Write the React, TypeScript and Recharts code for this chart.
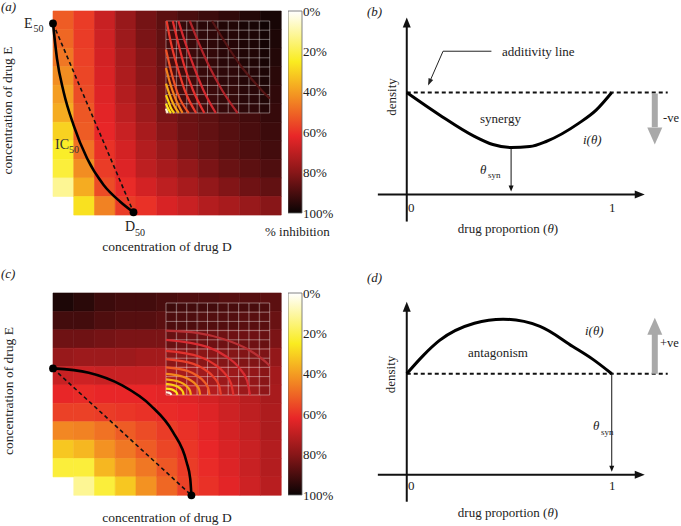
import React from 'react';
import { ComposedChart, Line, Scatter, XAxis, YAxis, ReferenceLine, ReferenceArea, Bar } from 'recharts';

const SERIF = 'Liberation Serif, Times New Roman, DejaVu Serif, serif';

// ---------------- data ----------------
// % inhibition, rows top -> bottom, columns left -> right (null = empty cell)
const heatA: (number | null)[][] = [
  [52, 58, 68, 77, 83, 87, 90, 92, 94, 96, 98],
  [50, 58, 67, 76, 82, 86, 89, 91, 93, 95, 97],
  [47, 57, 66, 74, 80, 85, 88, 90, 92, 94, 96],
  [43, 56, 65, 73, 79, 84, 87, 89, 91, 93, 95],
  [40, 55, 64, 72, 77, 83, 86, 88, 90, 92, 94],
  [37, 53, 63, 70, 76, 82, 85, 87, 89, 91, 93],
  [30, 52, 62, 68, 74, 80, 84, 86, 88, 90, 92],
  [24, 48, 60, 66, 72, 77, 82, 85, 87, 89, 91],
  [22, 43, 58, 64, 70, 74, 78, 82, 85, 87, 89],
  [12, 37, 55, 61, 66, 70, 74, 78, 81, 84, 86],
  [null, 27, 45, 58, 60, 65, 68, 72, 74, 77, 80],
];
const heatC: (number | null)[][] = [
  [97, 95, 92, 91, 91, 90, 89, 89, 88, 88, 87],
  [91, 91, 89, 88, 88, 87, 87, 86, 86, 85, 85],
  [84, 84, 83, 82, 82, 82, 81, 81, 81, 81, 82],
  [77, 76, 76, 76, 75, 75, 75, 75, 76, 77, 78],
  [68, 67, 68, 68, 68, 68, 69, 70, 71, 73, 75],
  [62, 61, 62, 62, 62, 63, 64, 66, 68, 71, 74],
  [57, 57, 58, 59, 60, 61, 62, 64, 67, 70, 73],
  [44, 45, 48, 52, 55, 58, 60, 63, 66, 69, 73],
  [32, 35, 42, 47, 52, 56, 59, 62, 65, 68, 72],
  [22, 22, 35, 42, 47, 53, 58, 61, 64, 68, 72],
  [null, 12, 22, 32, 42, 50, 57, 60, 63, 67, 71],
];
const pctTicks = [0, 20, 40, 60, 80, 100];
const gridTicks = [0, 1, 2, 3, 4, 5, 6, 7, 8, 9, 10];

// isoboles (cell units)
const isoASolid = [
  { x: 0, y: 10.33 }, { x: 0.19, y: 8.45 }, { x: 0.51, y: 6.65 }, { x: 0.99, y: 4.85 },
  { x: 1.64, y: 3.06 }, { x: 2.44, y: 1.62 }, { x: 3.24, y: 0.72 }, { x: 3.88, y: 0.15 },
];
const isoADashed = [{ x: 0, y: 10.33 }, { x: 3.88, y: 0.15 }];
const isoCSolid = [
  { x: 0, y: 6.9 }, { x: 1.726, y: 6.665 }, { x: 3.335, y: 5.976 }, { x: 4.716, y: 4.879 },
  { x: 5.776, y: 3.45 }, { x: 6.443, y: 1.786 }, { x: 6.613, y: 0.901 }, { x: 6.67, y: 0 },
];
const isoCDashed = [{ x: 0, y: 6.9 }, { x: 6.67, y: 0 }];

// inset contour lines (grid units 0-10)
const contoursA = [
  [{ x: 0, y: 0.48 }, { x: 0.08, y: 0.22 }, { x: 0.16, y: 0 }],
  [{ x: 0, y: 1.03 }, { x: 0.15, y: 0.6 }, { x: 0.48, y: 0 }],
  [{ x: 0, y: 1.94 }, { x: 0.25, y: 1.2 }, { x: 0.5, y: 0.5 }, { x: 0.8, y: 0 }],
  [{ x: 0, y: 3.2 }, { x: 0.35, y: 2.0 }, { x: 0.7, y: 1.0 }, { x: 1.23, y: 0 }],
  [{ x: 0, y: 4.9 }, { x: 0.4, y: 3.2 }, { x: 0.9, y: 1.6 }, { x: 1.6, y: 0 }],
  [{ x: 0, y: 6.9 }, { x: 0.5, y: 4.5 }, { x: 1.1, y: 2.2 }, { x: 2.2, y: 0 }],
  [{ x: 0.06, y: 10 }, { x: 0.5, y: 7.5 }, { x: 1.1, y: 5 }, { x: 1.8, y: 2.5 }, { x: 2.9, y: 0 }],
  [{ x: 0.65, y: 10 }, { x: 1.2, y: 7.5 }, { x: 1.8, y: 5 }, { x: 2.6, y: 2.5 }, { x: 3.7, y: 0 }],
  [{ x: 1.2, y: 10 }, { x: 1.9, y: 7.5 }, { x: 2.7, y: 5 }, { x: 3.6, y: 2.5 }, { x: 4.8, y: 0 }],
  [{ x: 2.3, y: 10 }, { x: 3.2, y: 7.5 }, { x: 4.2, y: 5 }, { x: 5.4, y: 2.5 }, { x: 6.9, y: 0 }],
  [{ x: 4.45, y: 10 }, { x: 5.8, y: 7.5 }, { x: 7.3, y: 5 }, { x: 8.8, y: 3 }, { x: 10, y: 1.57 }],
];
const contourColorsA = ['#fff4d0', '#ffe820', '#fcd410', '#f8aa18', '#f4801c', '#f05226', '#ec3a2c', '#e4302e', '#d42a30', '#b0242a', '#561414'];

const contoursC = [
  [{ x: 0, y: 0.3 }, { x: 0.25, y: 0.26 }, { x: 0.354, y: 0.212 }, { x: 0.433, y: 0.15 }, { x: 0.483, y: 0.078 }, { x: 0.5, y: 0 }],
  [{ x: 0, y: 0.7 }, { x: 0.55, y: 0.61 }, { x: 0.78, y: 0.49 }, { x: 0.95, y: 0.35 }, { x: 1.06, y: 0.18 }, { x: 1.1, y: 0 }],
  [{ x: 0, y: 1.2 }, { x: 0.85, y: 1.04 }, { x: 1.2, y: 0.85 }, { x: 1.47, y: 0.6 }, { x: 1.64, y: 0.31 }, { x: 1.7, y: 0 }],
  [{ x: 0, y: 1.7 }, { x: 1.2, y: 1.47 }, { x: 1.7, y: 1.2 }, { x: 2.08, y: 0.85 }, { x: 2.32, y: 0.44 }, { x: 2.4, y: 0 }],
  [{ x: 0, y: 2.3 }, { x: 1.65, y: 1.99 }, { x: 2.33, y: 1.63 }, { x: 2.86, y: 1.15 }, { x: 3.19, y: 0.6 }, { x: 3.3, y: 0 }],
  [{ x: 0, y: 3.0 }, { x: 2.1, y: 2.6 }, { x: 2.97, y: 2.12 }, { x: 3.64, y: 1.5 }, { x: 4.06, y: 0.78 }, { x: 4.2, y: 0 }],
  [{ x: 0, y: 3.9 }, { x: 2.65, y: 3.38 }, { x: 3.75, y: 2.76 }, { x: 4.59, y: 1.95 }, { x: 5.12, y: 1.01 }, { x: 5.3, y: 0 }],
  [{ x: 0, y: 4.8 }, { x: 3.25, y: 4.16 }, { x: 4.6, y: 3.39 }, { x: 5.63, y: 2.4 }, { x: 6.28, y: 1.24 }, { x: 6.5, y: 0 }],
  [{ x: 0, y: 6.0 }, { x: 4.05, y: 5.2 }, { x: 5.73, y: 4.24 }, { x: 7.01, y: 3.0 }, { x: 7.82, y: 1.55 }, { x: 8.1, y: 0 }],
  [{ x: 0, y: 7.0 }, { x: 3.0, y: 6.75 }, { x: 5.6, y: 6.06 }, { x: 7.92, y: 4.95 }, { x: 9.7, y: 3.5 }, { x: 10, y: 3.15 }],
];
const contourColorsC = ['#fff2e0', '#ffe41c', '#fcd014', '#f8aa18', '#f4881e', '#f05e26', '#ea402c', '#e2322e', '#d82c32', '#b83034'];

// interaction curves i(theta)
const curveB = [
  { x: 0, y: 1.0 }, { x: 0.16, y: 0.78 }, { x: 0.33, y: 0.57 }, { x: 0.42, y: 0.49 }, { x: 0.51, y: 0.46 },
  { x: 0.6, y: 0.47 }, { x: 0.68, y: 0.52 }, { x: 0.84, y: 0.7 }, { x: 0.925, y: 0.83 }, { x: 1.0, y: 1.0 },
];
const curveD = [
  { x: 0, y: 1.0 }, { x: 0.08, y: 1.18 }, { x: 0.16, y: 1.33 }, { x: 0.33, y: 1.5 }, { x: 0.47, y: 1.54 },
  { x: 0.65, y: 1.47 }, { x: 0.81, y: 1.27 }, { x: 0.91, y: 1.14 }, { x: 1.0, y: 1.0 },
];

// ---------------- helpers ----------------
const HOT: [number, number[]][] = [
  [0, [255, 255, 255]], [0.25, [250, 236, 32]], [0.42, [243, 146, 34]],
  [0.62, [232, 38, 40]], [0.8, [136, 22, 24]], [1, [10, 4, 4]],
];
function hot(v: number): string {
  const t = Math.max(0, Math.min(1, v / 100));
  for (let i = 1; i < HOT.length; i++) {
    const [t0, c0] = HOT[i - 1];
    const [t1, c1] = HOT[i];
    if (t <= t1) {
      const f = (t - t0) / (t1 - t0);
      const c = c0.map((a, k) => Math.round(a + (c1[k] - a) * f));
      return `rgb(${c.join(',')})`;
    }
  }
  return 'rgb(10,4,4)';
}

const M = 12;
function box(x0: number, ux: number, xDom: number[], y0: number, uy: number, yDom: number[]) {
  return {
    left: x0 + xDom[0] * ux - M,
    top: y0 - yDom[1] * uy - M,
    width: (xDom[1] - xDom[0]) * ux + 2 * M,
    height: (yDom[1] - yDom[0]) * uy + 2 * M,
  };
}
const MARGIN = { top: M, right: M, bottom: M, left: M };

const arrowShape = (angle: number, len: number, wid: number, color: string) => (p: any) => {
  const a = (angle * Math.PI) / 180;
  const cx = p.cx, cy = p.cy;
  const bx = cx - len * Math.cos(a), by = cy - len * Math.sin(a);
  const nx = (-Math.sin(a) * wid) / 2, ny = (Math.cos(a) * wid) / 2;
  return <polygon points={`${cx},${cy} ${bx + nx},${by + ny} ${bx - nx},${by - ny}`} fill={color} />;
};
const dotShape = (p: any) => <circle cx={p.cx} cy={p.cy} r={3.9} fill="#000" />;

// ---------------- components ----------------
function Heatmap({ b, grid, solid, dashed }: any) {
  const n = grid.length;
  return (
    <div style={{ position: 'absolute', left: b.left, top: b.top }}>
      <ComposedChart width={b.width} height={b.height} margin={MARGIN}>
        <XAxis type="number" dataKey="x" domain={[0, 11]} hide />
        <YAxis type="number" dataKey="y" domain={[0, 11]} hide />
        {grid.flatMap((row: (number | null)[], r: number) =>
          row.map((v, c) =>
            v == null ? null : (
              <ReferenceArea
                key={`${r}-${c}`}
                x1={c}
                x2={c + 1}
                y1={n - 1 - r}
                y2={n - r}
                fill={hot(v)}
                fillOpacity={1}
                stroke={hot(v)}
                strokeWidth={0.6}
              />
            )
          )
        )}
        <Line data={dashed} dataKey="y" type="linear" stroke="#111" strokeWidth={1.6} strokeDasharray="4 3" dot={false} isAnimationActive={false} />
        <Line data={solid} dataKey="y" type="monotone" stroke="#000" strokeWidth={2.6} dot={false} isAnimationActive={false} />
        <Scatter data={dashed} shape={dotShape} isAnimationActive={false} />
      </ComposedChart>
    </div>
  );
}

function Inset({ b, contours, colors, shade }: any) {
  return (
    <div style={{ position: 'absolute', left: b.left, top: b.top }}>
      <ComposedChart width={b.width} height={b.height} margin={MARGIN}>
        <XAxis type="number" dataKey="x" domain={[0, 10]} hide />
        <YAxis type="number" dataKey="y" domain={[0, 10]} hide />
        <ReferenceArea x1={0} x2={10} y1={0} y2={10} fill="#000" fillOpacity={shade} stroke="none" />
        {gridTicks.map((v) => (
          <ReferenceLine key={'gx' + v} x={v} stroke="rgba(255,255,255,0.5)" strokeWidth={0.8} />
        ))}
        {gridTicks.map((v) => (
          <ReferenceLine key={'gy' + v} y={v} stroke="rgba(255,255,255,0.5)" strokeWidth={0.8} />
        ))}
        {contours.map((c: any, i: number) => (
          <Line key={i} data={c} dataKey="y" type="monotone" stroke={colors[i]} strokeWidth={2.2} dot={false} isAnimationActive={false} />
        ))}
      </ComposedChart>
    </div>
  );
}

function Colorbar({ left, top, height, id }: any) {
  const W = 14;
  return (
    <div style={{ position: 'absolute', left, top: top - 8 }}>
      <ComposedChart width={W + 42} height={height + 16} data={[{ k: 'bar', v: 100 }]} margin={{ top: 8, bottom: 8, left: 0, right: 0 }} barCategoryGap={0}>
        <defs>
          <linearGradient id={id} x1="0" y1="0" x2="0" y2="1">
            {HOT.map(([t, c]) => (
              <stop key={t} offset={`${t * 100}%`} stopColor={`rgb(${c.join(',')})`} />
            ))}
          </linearGradient>
        </defs>
        <XAxis dataKey="k" type="category" hide />
        <YAxis
          orientation="right"
          type="number"
          domain={[0, 100]}
          reversed
          ticks={pctTicks}
          interval={0}
          tickFormatter={(v: number) => `${v}%`}
          width={42}
          axisLine={false}
          tickLine={false}
          tickSize={0}
          tickMargin={1}
          tick={{ fontSize: 13, fill: '#222', style: { fontFamily: SERIF } }}
        />
        <Bar dataKey="v" fill={`url(#${id})`} stroke="#666" strokeWidth={0.8} isAnimationActive={false} />
      </ComposedChart>
    </div>
  );
}

function Diagram({ b, curve, yTop, yAxisLow, grey, drop }: any) {
  const xDom = [-0.15, 1.3];
  const yDom = [-0.3, 1.77];
  return (
    <div style={{ position: 'absolute', left: b.left, top: b.top }}>
      <ComposedChart width={b.width} height={b.height} margin={MARGIN}>
        <XAxis type="number" dataKey="x" domain={xDom} hide />
        <YAxis type="number" dataKey="y" domain={yDom} hide />
        <ReferenceLine segment={[{ x: -0.141, y: 0 }, { x: 1.125, y: 0 }]} stroke="#111" strokeWidth={2} />
        <Scatter data={[{ x: 1.161, y: 0 }]} shape={arrowShape(0, 10, 8, '#111')} isAnimationActive={false} />
        <ReferenceLine segment={[{ x: 0, y: yAxisLow }, { x: 0, y: yTop - 0.09 }]} stroke="#111" strokeWidth={2} />
        <Scatter data={[{ x: 0, y: yTop }]} shape={arrowShape(-90, 10, 8, '#111')} isAnimationActive={false} />
        <ReferenceLine segment={[{ x: 0, y: 1 }, { x: 1.273, y: 1 }]} stroke="#111" strokeWidth={2} strokeDasharray="4 3" />
        <ReferenceLine segment={[{ x: 1.21, y: grey[0] }, { x: 1.21, y: grey[1] }]} stroke="#a9a9a9" strokeWidth={6} />
        <Scatter data={[{ x: 1.21, y: grey[2] }]} shape={arrowShape(grey[2] > grey[0] ? -90 : 90, 17, 15, '#a9a9a9')} isAnimationActive={false} />
        <ReferenceLine segment={[{ x: drop[0], y: drop[1] }, { x: drop[0], y: 0.08 }]} stroke="#111" strokeWidth={1} />
        <Scatter data={[{ x: drop[0], y: 0.03 }]} shape={arrowShape(90, 6, 5, '#111')} isAnimationActive={false} />
        <Line data={curve} dataKey="y" type="monotone" stroke="#000" strokeWidth={3} dot={false} isAnimationActive={false} />
      </ComposedChart>
    </div>
  );
}

function Leader({ b }: any) {
  return (
    <div style={{ position: 'absolute', left: b.left, top: b.top }}>
      <ComposedChart width={b.width} height={b.height} margin={MARGIN}>
        <XAxis type="number" dataKey="x" domain={[-0.15, 1.3]} hide />
        <YAxis type="number" dataKey="y" domain={[-0.3, 1.77]} hide />
        <ReferenceLine segment={[{ x: 0.413, y: 1.405 }, { x: 0.177, y: 1.405 }]} stroke="#222" strokeWidth={1} />
        <ReferenceLine segment={[{ x: 0.177, y: 1.405 }, { x: 0.108, y: 1.088 }]} stroke="#222" strokeWidth={1} />
        <Scatter data={[{ x: 0.104, y: 1.069 }]} shape={arrowShape(113.6, 7, 5, '#222')} isAnimationActive={false} />
      </ComposedChart>
    </div>
  );
}

const txt = { fontSize: 13, fill: '#222' } as const;

function Texts() {
  return (
    <svg width={681} height={526} style={{ position: 'absolute', left: 0, top: 0, pointerEvents: 'none', fontFamily: SERIF }}>
      {/* (a) */}
      <text {...txt} x={1} y={11} fontStyle="italic">(a)</text>
      <text {...txt} fontSize={13.5} textAnchor="middle" transform="translate(11.5,110.5) rotate(-90)">concentration of drug E</text>
      <text {...txt} fontSize={13.5} x={167} y={251} textAnchor="middle">concentration of drug D</text>
      <text {...txt} fontSize={14} x={24} y={28}>E</text>
      <text {...txt} fontSize={10} x={33.5} y={32}>50</text>
      <text {...txt} fontSize={14} x={125} y={231}>D</text>
      <text {...txt} fontSize={10} x={135} y={236}>50</text>
      <text {...txt} fontSize={14} fill="#333" x={55} y={149}>IC</text>
      <text {...txt} fontSize={10} fill="#333" x={69} y={153}>50</text>
      <text {...txt} x={265} y={236}>% inhibition</text>
      {/* (b) */}
      <text {...txt} x={367} y={15.5} fontStyle="italic">(b)</text>
      <text {...txt} x={502} y={56}>additivity line</text>
      <text {...txt} textAnchor="middle" transform="translate(396,97) rotate(-90)">density</text>
      <text {...txt} x={480} y={123}>synergy</text>
      <text {...txt} fontSize={12.5} x={663} y={122}>-ve</text>
      <text {...txt} x={583} y={144} fontStyle="italic">i(θ)</text>
      <text {...txt} x={480} y={174} fontStyle="italic">θ</text>
      <text {...txt} fontSize={9} x={488} y={178}>syn</text>
      <text {...txt} x={408} y={212}>0</text>
      <text {...txt} x={609} y={212}>1</text>
      <text {...txt} x={508} y={233} textAnchor="middle">drug proportion (<tspan fontStyle="italic">θ</tspan>)</text>
      {/* (c) */}
      <text {...txt} x={1} y={278} fontStyle="italic">(c)</text>
      <text {...txt} fontSize={13.5} textAnchor="middle" transform="translate(12.5,391) rotate(-90)">concentration of drug E</text>
      <text {...txt} fontSize={13.5} x={167} y={522} textAnchor="middle">concentration of drug D</text>
      {/* (d) */}
      <text {...txt} x={367} y={282} fontStyle="italic">(d)</text>
      <text {...txt} x={468} y={357}>antagonism</text>
      <text {...txt} x={585} y={335} fontStyle="italic">i(θ)</text>
      <text {...txt} fontSize={12.5} x={660} y={347}>+ve</text>
      <text {...txt} textAnchor="middle" transform="translate(395,374.5) rotate(-90)">density</text>
      <text {...txt} x={593} y={430} fontStyle="italic">θ</text>
      <text {...txt} fontSize={9} x={601} y={435}>syn</text>
      <text {...txt} x={408} y={490}>0</text>
      <text {...txt} x={609} y={490}>1</text>
      <text {...txt} x={508} y={517} textAnchor="middle">drug proportion (<tspan fontStyle="italic">θ</tspan>)</text>
    </svg>
  );
}

export default function App() {
  const hA = box(52.7, 20.75, [0, 11], 214.7, 18.55, [0, 11]);
  const hC = box(52.7, 20.75, [0, 11], 495, 18.39, [0, 11]);
  const iA = box(166.3, 10.37, [0, 10], 113, 9.2, [0, 10]);
  const iC = box(166.3, 10.37, [0, 10], 395, 9.2, [0, 10]);
  const dB = box(407, 205, [-0.15, 1.3], 195, 102, [-0.3, 1.77]);
  const dD = box(407, 205, [-0.15, 1.3], 475, 101, [-0.3, 1.77]);
  return (
    <div style={{ position: 'absolute', left: 0, top: 0, width: 681, height: 526, background: '#fff', overflow: 'hidden', fontFamily: SERIF }}>
      <Heatmap b={hA} grid={heatA} solid={isoASolid} dashed={isoADashed} />
      <Inset b={iA} contours={contoursA} colors={contourColorsA} shade={0.3} />
      <Colorbar left={288} top={11} height={202} id="hotA" />
      <Heatmap b={hC} grid={heatC} solid={isoCSolid} dashed={isoCDashed} />
      <Inset b={iC} contours={contoursC} colors={contourColorsC} shade={0.15} />
      <Colorbar left={288} top={293} height={202} id="hotC" />
      <Diagram b={dB} curve={curveB} yTop={1.735} yAxisLow={-0.265} grey={[0.99, 0.66, 0.49]} drop={[0.509, 0.458]} />
      <Leader b={dB} />
      <Diagram b={dD} curve={curveD} yTop={1.713} yAxisLow={-0.267} grey={[1.0, 1.42, 1.554]} drop={[1.0, 1.0]} />
      <Texts />
    </div>
  );
}
